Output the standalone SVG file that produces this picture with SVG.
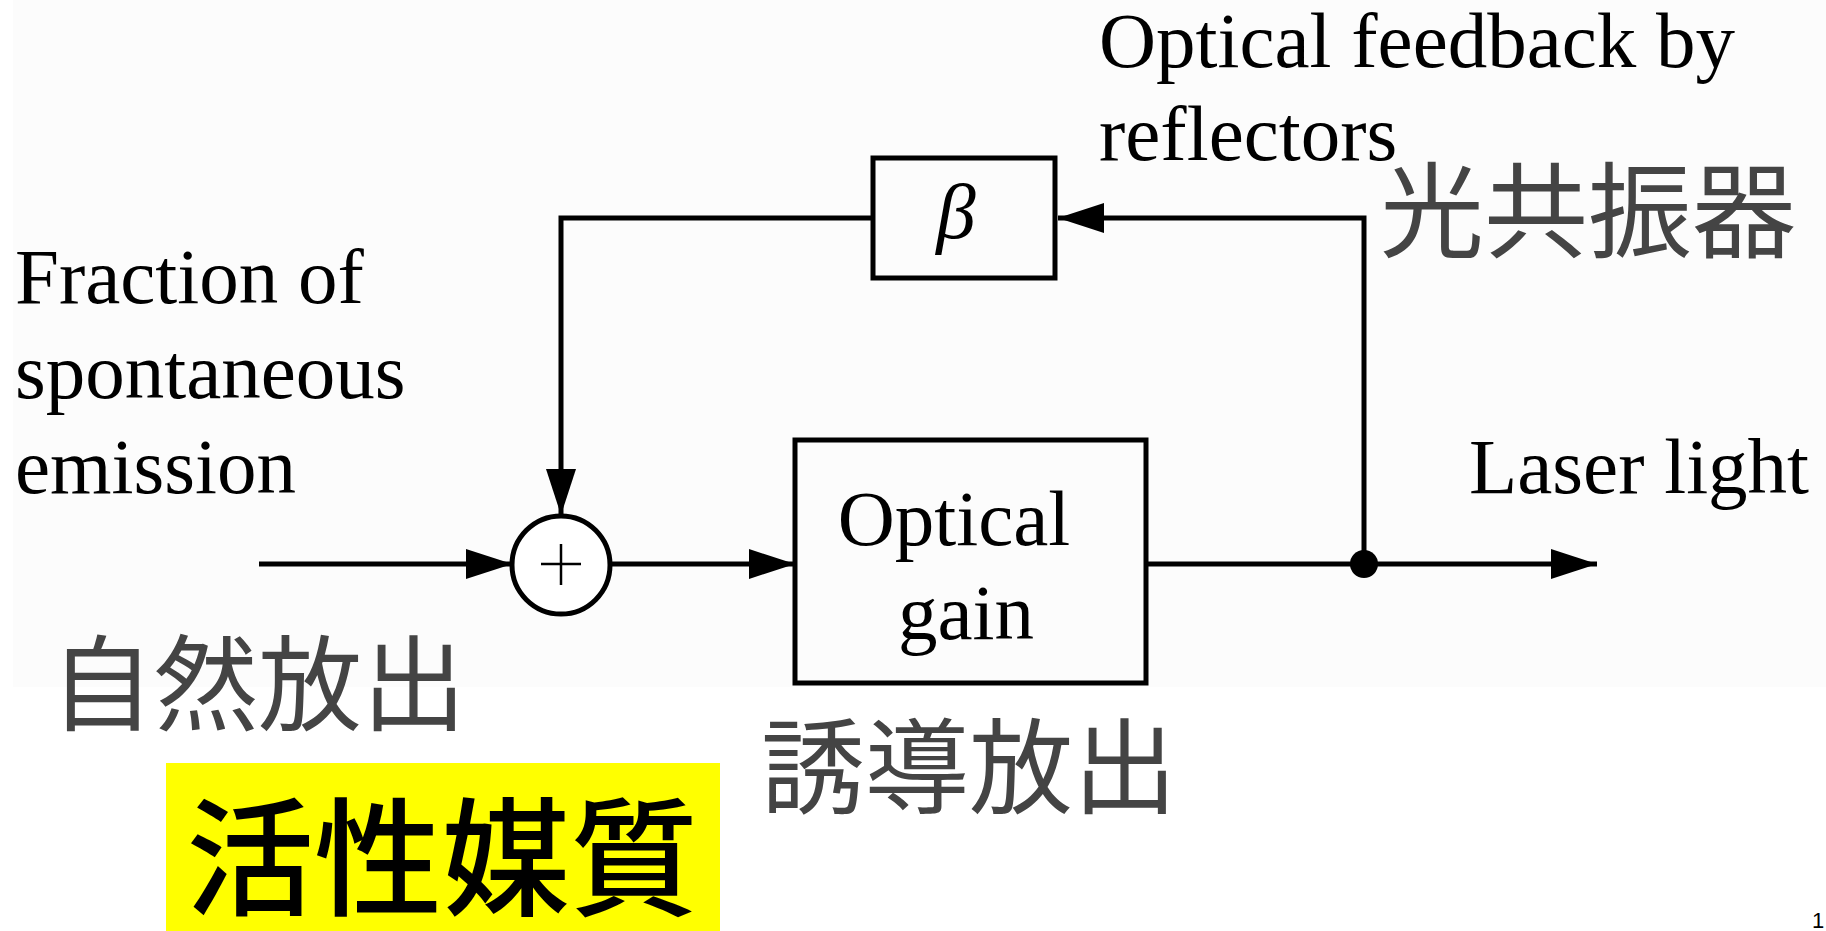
<svg xmlns="http://www.w3.org/2000/svg" width="1826" height="931" viewBox="0 0 1826 931">
  <defs>
    <marker id="arr" viewBox="0 0 46 30" refX="46" refY="15" markerWidth="46" markerHeight="30" markerUnits="userSpaceOnUse" orient="auto">
      <path d="M0,0 L46,15 L0,30 z" fill="#000"/>
    </marker>
    <style>
      .en { font-family: "Liberation Serif", "Times New Roman", serif; font-size: 79px; fill: #000; }
      .jp { font-family: "Noto Sans CJK JP", "Noto Sans CJK SC", sans-serif; font-size: 104px; fill: #444444; }
      .box { fill: none; stroke: #000; stroke-width: 5; }
      .wire { fill: none; stroke: #000; stroke-width: 5; }
    </style>
  </defs>
  <rect x="0" y="0" width="1826" height="931" fill="#ffffff"/>
  <rect x="13" y="0" width="1813" height="687" fill="#fcfcfc"/>

  <g id="connectors">
    <line class="wire" x1="259" y1="564" x2="512" y2="564" marker-end="url(#arr)"/>
    <line class="wire" x1="610" y1="564" x2="795" y2="564" marker-end="url(#arr)"/>
    <line class="wire" x1="1146" y1="564" x2="1597" y2="564" marker-end="url(#arr)"/>
    <polyline class="wire" points="1364,564 1364,218 1058,218" marker-end="url(#arr)"/>
    <polyline class="wire" points="873,218 561,218 561,515" marker-end="url(#arr)"/>
    <circle cx="1364" cy="564" r="14" fill="#000"/>
  </g>

  <g id="sum">
    <circle cx="561" cy="565" r="49" fill="#fff" stroke="#000" stroke-width="5"/>
    <line x1="541" y1="564" x2="581" y2="564" stroke="#000" stroke-width="2.5"/>
    <line x1="561" y1="544" x2="561" y2="585" stroke="#000" stroke-width="2.5"/>
  </g>

  <g id="beta">
    <rect class="box" x="873" y="158" width="182" height="120" fill="#fff"/>
    <text class="en" x="956" y="238" text-anchor="middle" font-style="italic">β</text>
  </g>

  <g id="gain">
    <rect class="box" x="795" y="440" width="351" height="243" fill="#fff"/>
    <text class="en" x="954" y="545" text-anchor="middle">Optical</text>
    <text class="en" x="966" y="639" text-anchor="middle">gain</text>
  </g>

  <g id="label-feedback">
    <text class="en" x="1099" y="67">Optical feedback by</text>
    <text class="en" x="1099" y="160">reflectors</text>
  </g>
  <g id="label-spont">
    <text class="en" x="15" y="303">Fraction of</text>
    <text class="en" x="15" y="398">spontaneous</text>
    <text class="en" x="15" y="493">emission</text>
  </g>
  <g id="label-laser">
    <text class="en" x="1469" y="493">Laser light</text>
  </g>

  <g id="jp-resonator">
    <text class="jp" x="1380" y="250" font-size="107">光共振器</text>
  </g>
  <g id="jp-spont">
    <text class="jp" x="50" y="723">自然放出</text>
  </g>
  <g id="jp-stim">
    <text class="jp" x="761" y="806">誘導放出</text>
  </g>
  <g id="jp-medium">
    <rect x="166" y="763" width="554" height="168" fill="#ffff00"/>
    <text x="186" y="906" font-family="Noto Sans CJK JP, Noto Sans CJK SC, sans-serif" font-size="128" font-weight="500" fill="#000">活性媒質</text>
  </g>
  <text x="1812" y="928" font-family="Liberation Sans, Arial, sans-serif" font-size="22" fill="#000">1</text>
</svg>
